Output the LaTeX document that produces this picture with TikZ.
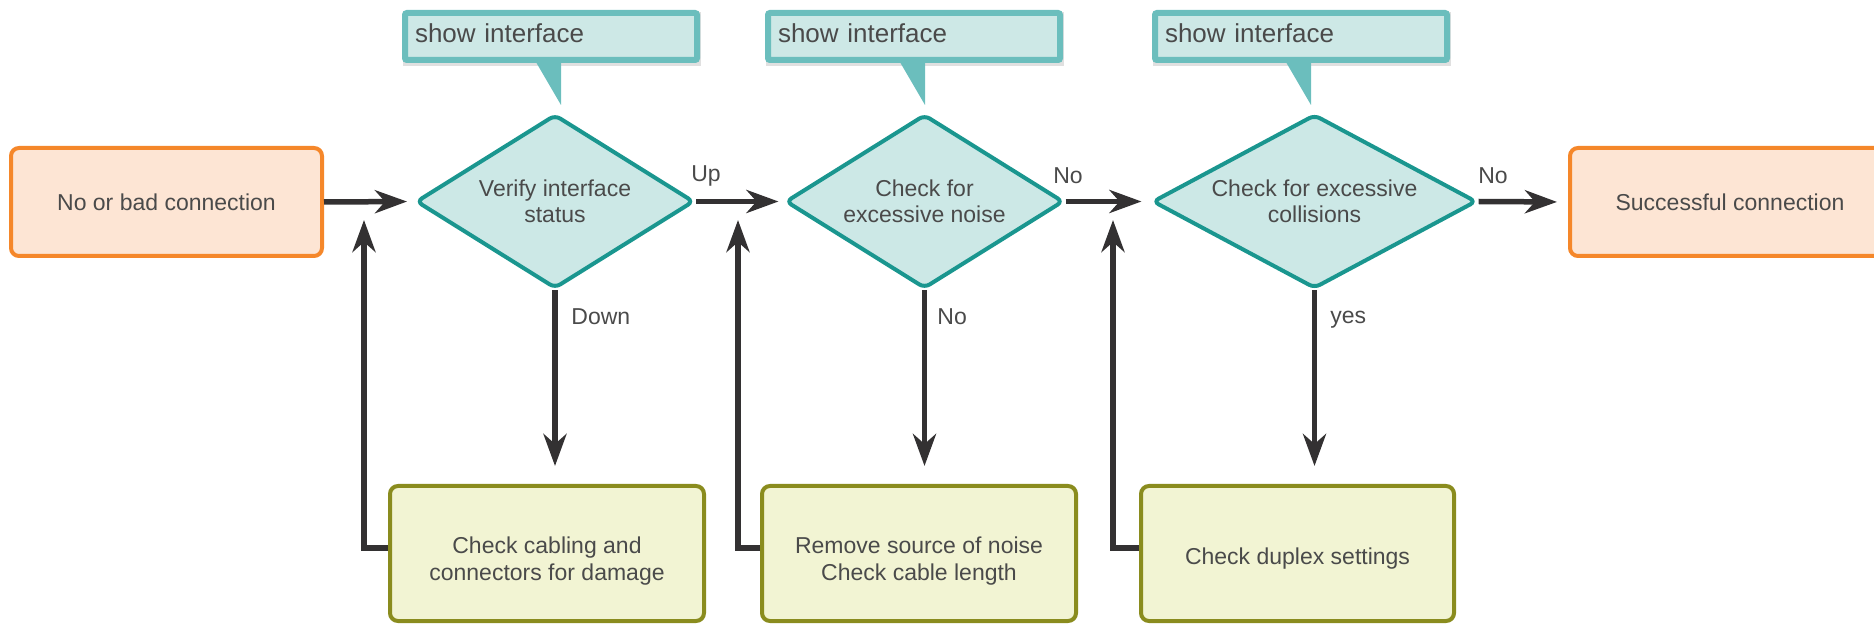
\documentclass[tikz,border=0pt]{standalone}
\usepackage{fontspec}
\setmainfont{Liberation Sans}
\usetikzlibrary{shapes.geometric,arrows.meta}
\definecolor{orangeB}{HTML}{F5872A}
\definecolor{orangeF}{HTML}{FDE5D4}
\definecolor{tealB}{HTML}{1A968F}
\definecolor{tealF}{HTML}{CCE8E6}
\definecolor{callB}{HTML}{6BBEBD}
\definecolor{callF}{HTML}{CDE8E6}
\definecolor{oliveB}{HTML}{8A8C1E}
\definecolor{oliveF}{HTML}{F2F4D3}
\definecolor{arrowC}{HTML}{333132}
\definecolor{txt}{HTML}{4A4A4A}
\newcommand{\bodyfont}{\fontsize{11.5pt}{13.5pt}\selectfont}
\newcommand{\decfont}{\fontsize{11.5pt}{13pt}\selectfont}
\newcommand{\callfont}{\fontsize{13pt}{15pt}\selectfont}
\begin{document}
\begin{tikzpicture}[x=0.5pt,y=-0.5pt,
  term/.style={rectangle, draw=orangeB, fill=orangeF, line width=2pt, rounded corners=4pt,
    minimum width=155.5pt, minimum height=54pt, text=txt, font=\bodyfont, align=center},
  dec/.style={diamond, draw=tealB, fill=tealF, line width=2pt, rounded corners=3pt,
    inner sep=0pt, minimum height=87pt, text=txt, font=\decfont, align=center},
  act/.style={rectangle, draw=oliveB, fill=oliveF, line width=2pt, rounded corners=4pt,
    minimum width=157pt, minimum height=67.5pt, text=txt, font=\bodyfont, align=center},
  callbox/.style={rectangle, draw=callB, fill=callF, line width=3pt, rounded corners=1pt,
    minimum height=23.5pt, text width=136pt, inner sep=5pt, align=left, text=txt,
    font=\callfont, anchor=north west, text depth=3pt},
  arr/.style={draw=arrowC, line width=2.75pt, -{Stealth[length=16pt,width=11.5pt,inset=5pt]}},
  lab/.style={text=txt, font=\bodyfont, inner sep=0pt}
]
\useasboundingbox (0,0) rectangle (1874,625);

% callouts: shadows and tails
\foreach \l/\t in {399/561, 762/925, 1149/1311}{
  \fill[black, opacity=0.12] (\l+4,12) rectangle (\l+302,66);
  \fill[callB] (\t-28,57) -- (\t,57) -- (\t,105) -- cycle;
}
\node[callbox] (c1) at (402,10) {show interface};
\node[callbox] (c2) at (765,10) {show interface};
\node[callbox] (c3) at (1152,10) {show interface};

% main row
\node[term] (start) at (166.5,202) {No or bad connection};
\node[dec, shape aspect=1.6, minimum width=139pt] (d1) at (555,201.5) {Verify interface\\status};
\node[dec, shape aspect=1.6, minimum width=139pt] (d2) at (924.5,201.5) {Check for\\excessive noise};
\node[dec, shape aspect=1.87, minimum width=162pt] (d3) at (1314.5,201.5) {Check for excessive\\collisions};
\node[term, minimum width=160pt] (end) at (1730,202) {Successful connection};

% bottom row
\node[act] (b1) at (547,553.5) {\rule{0pt}{16pt}Check cabling and\\connectors for damage};
\node[act] (b2) at (919,553.5) {\rule{0pt}{16pt}Remove source of noise\\Check cable length};
\node[act, minimum width=156.5pt] (b3) at (1297.5,553.5) {\rule{0pt}{13pt}Check duplex settings};

% return tips
\coordinate (r1) at (364,220);
\coordinate (r2) at (738,220);
\coordinate (r3) at (1113,220);

% horizontal arrows
\draw[arr, shorten >=3.5pt] (start.east) -- (d1.west);
\draw[arr, shorten >=2.5pt] (d1.east) -- (d2.west);
\draw[arr, shorten >=4.5pt] (d2.east) -- (d3.west);
\draw[arr, shorten >=5.5pt] (d3.east) -- (end.west);

% down arrows
\draw[arr, shorten >=9pt] (d1.south) -- (b1.north -| d1.south);
\draw[arr, shorten >=9pt] (d2.south) -- (b2.north -| d2.south);
\draw[arr, shorten >=9pt] (d3.south) -- (b3.north -| d3.south);

% return arrows
\draw[arr] ([yshift=2.75pt]b1.west) -| (r1);
\draw[arr] ([yshift=2.75pt]b2.west) -| (r2);
\draw[arr] ([yshift=2.75pt]b3.west) -| (r3);

% labels
\node[lab] (lup) at (706,176) {Up};
\node[lab] (lno1) at (1068,176) {No};
\node[lab] (lno2) at (1493,176) {No};
\node[lab, anchor=west] (ldown) at (571,317) {Down};
\node[lab, anchor=west] (lno3) at (937,317) {No};
\node[lab, anchor=west] (lyes) at (1330,320) {yes};
\end{tikzpicture}
\end{document}
